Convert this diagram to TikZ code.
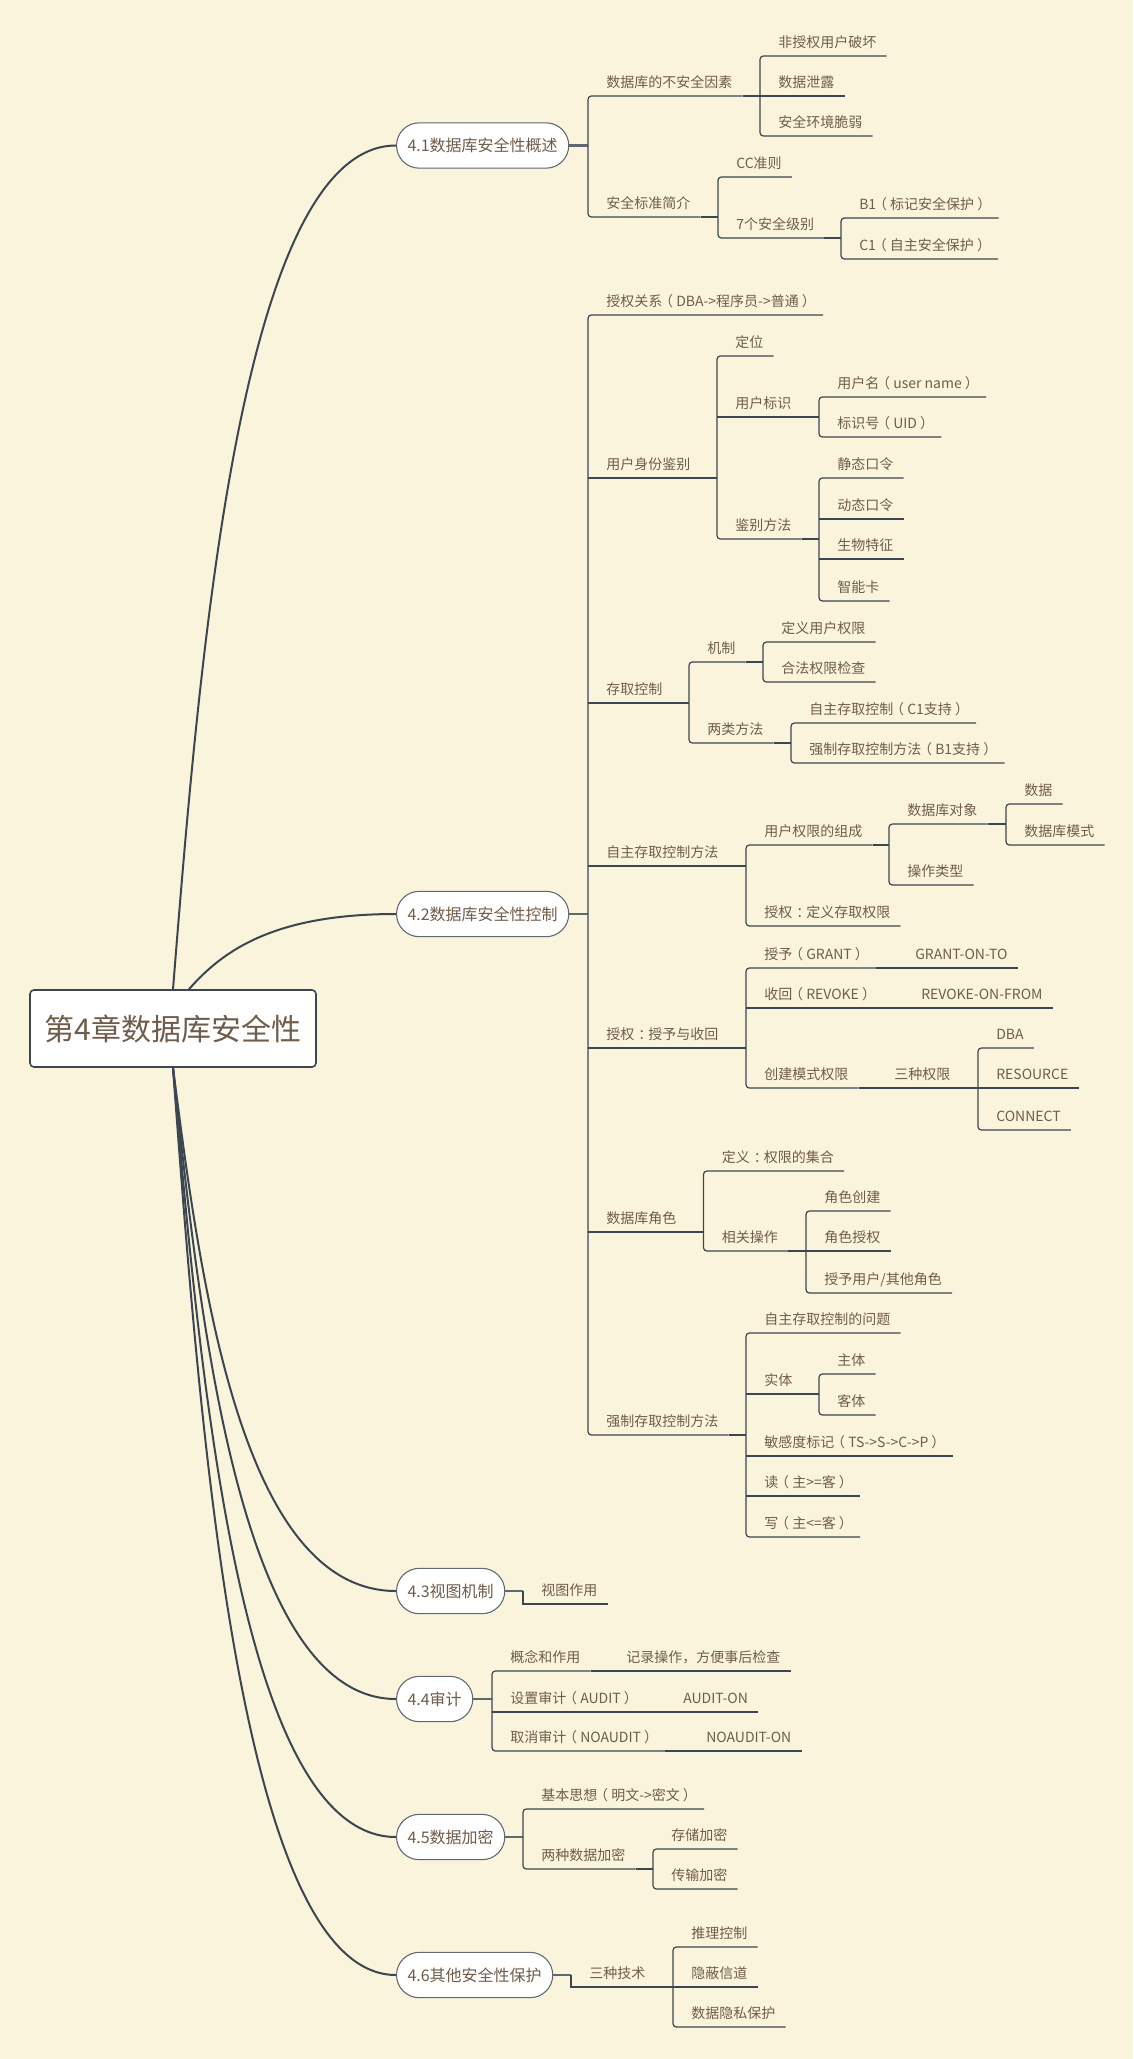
\documentclass[tikz,border=0pt]{standalone}
\usepackage{fontspec}
\setmainfont{Noto Sans CJK SC}
\usepackage{tikz}
\definecolor{paper}{RGB}{251,244,221}
\definecolor{ink}{RGB}{112,92,74}
\definecolor{wire}{RGB}{60,70,80}
\definecolor{rim}{RGB}{96,104,112}
% full-width punctuation set centred in its box
\newcommand{\fwopen}{\kern-0.22em（\kern0.22em}
\newcommand{\fwclose}{\kern0.22em）\kern-0.22em}
\newcommand{\fwcolon}{\kern0.3em：\kern-0.3em}

\begin{document}
\begin{tikzpicture}[
  x=0.75pt, y=-0.75pt,
  every node/.style={text=ink},
  ln/.style={draw=wire, line width=0.9pt},
  fork/.style={ln, rounded corners=2.5pt},
  stub/.style={draw=rim, line width=1.6pt},
  limb/.style={draw=wire, line width=1.5pt},
  hub/.style={draw=wire, fill=white, line width=1.2pt, rounded corners=3pt, minimum width=214.5pt, minimum height=57.75pt, font=\fontsize{22.5}{26}\selectfont},
  sec/.style={draw=rim, fill=white, line width=0.8pt, rounded corners=17pt, minimum height=34pt, inner xsep=8.25pt, anchor=west, font=\fontsize{12}{14}\selectfont},
  tp/.style={anchor=south west, inner xsep=0pt, inner ysep=0pt, text height=8.5pt, text depth=6pt, font=\fontsize{10.5}{12}\selectfont, execute at begin node={\hspace*{13.5pt}}, execute at end node={\hspace*{7.5pt}}},
]
  \useasboundingbox[fill=paper] (0,0) rectangle (1133,2059);

  % centre and sections
  \node[hub] (root) at (173,1028.5) {第4章数据库安全性};
  \node[sec] (s1) at (396,145.5) {4.1数据库安全性概述};
  \node[sec] (s2) at (396,914) {4.2数据库安全性控制};
  \node[sec] (s3) at (396,1591) {4.3视图机制};
  \node[sec] (s4) at (396,1699) {4.4审计};
  \node[sec] (s5) at (396,1837) {4.5数据加密};
  \node[sec] (s6) at (396,1975) {4.6其他安全性保护};
  \draw[limb] (root.north) .. controls +(27,-338) and +(-155,0) .. (s1.west);
  \draw[limb] ([xshift=12pt]root.north) .. controls +(35,-40) and +(-120,0) .. (s2.west);
  \draw[limb] (root.south) .. controls +(27,210) and +(-156,0) .. (s3.west);
  \draw[limb] (root.south) .. controls +(27,253) and +(-156,0) .. (s4.west);
  \draw[limb] (root.south) .. controls +(27,308) and +(-156,0) .. (s5.west);
  \draw[limb] (root.south) .. controls +(27,363) and +(-156,0) .. (s6.west);

  % 4.1
  \node[tp] (a1) at (588,96) {数据库的不安全因素};
  \node[tp] (a2) at (588,217) {安全标准简介};
  \draw[stub] (s1.east) -- (a1.south west |- s1.east);
  \draw[fork] (a1.south east) -- (a1.south west) -- (a2.south west) -- (a2.south east);
  \node[tp] (a11) at (760,56) {非授权用户破坏};
  \node[tp] (a12) at (760,96) {数据泄露};
  \node[tp] (a13) at (760,136) {安全环境脆弱};
  \draw[ln] (a1.south east) -- (a11.south west |- a1.south);
  \draw[fork] (a11.south east) -- (a11.south west) -- (a13.south west) -- (a13.south east);
  \draw[ln] (a12.south west) -- (a12.south east);
  \node[tp] (a21) at (718,177) {CC准则};
  \node[tp] (a22) at (718,238) {7个安全级别};
  \draw[ln] (a2.south east) -- (a21.south west |- a2.south);
  \draw[fork] (a21.south east) -- (a21.south west) -- (a22.south west) -- (a22.south east);
  \node[tp] (a221) at (841,218) {B1\fwopen 标记安全保护\fwclose};
  \node[tp] (a222) at (841,259) {C1\fwopen 自主安全保护\fwclose};
  \draw[ln] (a22.south east) -- (a221.south west |- a22.south);
  \draw[fork] (a221.south east) -- (a221.south west) -- (a222.south west) -- (a222.south east);

  % 4.2
  \node[tp] (b1) at (588,315) {授权关系\fwopen DBA->程序员->普通\fwclose};
  \node[tp] (b2) at (588,478) {用户身份鉴别};
  \node[tp] (b3) at (588,703) {存取控制};
  \node[tp] (b4) at (588,866) {自主存取控制方法};
  \node[tp] (b5) at (588,1048) {授权\fwcolon 授予与收回};
  \node[tp] (b6) at (588,1232) {数据库角色};
  \node[tp] (b7) at (588,1435) {强制存取控制方法};
  \draw[stub] (s2.east) -- (b1.south west |- s2.east);
  \draw[fork] (b1.south east) -- (b1.south west) -- (b7.south west) -- (b7.south east);
  \foreach \n in {b2,b3,b4,b5,b6}
    \draw[ln] (\n.south west) -- (\n.south east);

  \node[tp] (b21) at (717,356) {定位};
  \node[tp] (b22) at (717,417) {用户标识};
  \node[tp] (b23) at (717,539) {鉴别方法};
  \draw[ln] (b2.south east) -- (b21.south west |- b2.south);
  \draw[fork] (b21.south east) -- (b21.south west) -- (b23.south west) -- (b23.south east);
  \draw[ln] (b22.south west) -- (b22.south east);
  \node[tp] (b221) at (819,397) {用户名\fwopen user name\fwclose};
  \node[tp] (b222) at (819,437) {标识号\fwopen UID\fwclose};
  \draw[ln] (b22.south east) -- (b221.south west |- b22.south);
  \draw[fork] (b221.south east) -- (b221.south west) -- (b222.south west) -- (b222.south east);
  \node[tp] (b231) at (819,478) {静态口令};
  \node[tp] (b232) at (819,519) {动态口令};
  \node[tp] (b233) at (819,559) {生物特征};
  \node[tp] (b234) at (819,601) {智能卡};
  \draw[ln] (b23.south east) -- (b231.south west |- b23.south);
  \draw[fork] (b231.south east) -- (b231.south west) -- (b234.south west) -- (b234.south east);
  \draw[ln] (b232.south west) -- (b232.south east);
  \draw[ln] (b233.south west) -- (b233.south east);

  \node[tp] (b31) at (689,662) {机制};
  \node[tp] (b32) at (689,743) {两类方法};
  \draw[ln] (b3.south east) -- (b31.south west |- b3.south);
  \draw[fork] (b31.south east) -- (b31.south west) -- (b32.south west) -- (b32.south east);
  \node[tp] (b311) at (763,642) {定义用户权限};
  \node[tp] (b312) at (763,682) {合法权限检查};
  \draw[ln] (b31.south east) -- (b311.south west |- b31.south);
  \draw[fork] (b311.south east) -- (b311.south west) -- (b312.south west) -- (b312.south east);
  \node[tp] (b321) at (791,723) {自主存取控制\fwopen C1支持\fwclose};
  \node[tp] (b322) at (791,763) {强制存取控制方法\fwopen B1支持\fwclose};
  \draw[ln] (b32.south east) -- (b321.south west |- b32.south);
  \draw[fork] (b321.south east) -- (b321.south west) -- (b322.south west) -- (b322.south east);

  \node[tp] (b41) at (746,845) {用户权限的组成};
  \node[tp] (b42) at (746,926) {授权\fwcolon 定义存取权限};
  \draw[ln] (b4.south east) -- (b41.south west |- b4.south);
  \draw[fork] (b41.south east) -- (b41.south west) -- (b42.south west) -- (b42.south east);
  \node[tp] (b411) at (889,824) {数据库对象};
  \node[tp] (b412) at (889,885) {操作类型};
  \draw[ln] (b41.south east) -- (b411.south west |- b41.south);
  \draw[fork] (b411.south east) -- (b411.south west) -- (b412.south west) -- (b412.south east);
  \node[tp] (b4111) at (1006,804) {数据};
  \node[tp] (b4112) at (1006,845) {数据库模式};
  \draw[ln] (b411.south east) -- (b4111.south west |- b411.south);
  \draw[fork] (b4111.south east) -- (b4111.south west) -- (b4112.south west) -- (b4112.south east);

  \node[tp] (b51) at (746,968) {授予\fwopen GRANT\fwclose};
  \node[tp] (b52) at (746,1008) {收回\fwopen REVOKE\fwclose};
  \node[tp] (b53) at (746,1088) {创建模式权限};
  \draw[ln] (b5.south east) -- (b51.south west |- b5.south);
  \draw[fork] (b51.south east) -- (b51.south west) -- (b53.south west) -- (b53.south east);
  \draw[ln] (b52.south west) -- (b52.south east);
  \node[tp] (g51) at (897,968) {GRANT-ON-TO};
  \node[tp] (g52) at (903,1008) {REVOKE-ON-FROM};
  \node[tp] (g53) at (876,1088) {三种权限};
  \draw[ln] (b51.south east) -- (g51.south east);
  \draw[ln] (b52.south east) -- (g52.south east);
  \draw[ln] (b53.south east) -- (g53.south east);
  \node[tp] (h1) at (978,1048) {DBA};
  \node[tp] (h2) at (978,1088) {RESOURCE};
  \node[tp] (h3) at (978,1130) {CONNECT};
  \draw[ln] (g53.south east) -- (h1.south west |- g53.south);
  \draw[fork] (h1.south east) -- (h1.south west) -- (h3.south west) -- (h3.south east);
  \draw[ln] (h2.south west) -- (h2.south east);

  \node[tp] (b61) at (703.5,1171) {定义\fwcolon 权限的集合};
  \node[tp] (b62) at (703.5,1251) {相关操作};
  \draw[ln] (b6.south east) -- (b61.south west |- b6.south);
  \draw[fork] (b61.south east) -- (b61.south west) -- (b62.south west) -- (b62.south east);
  \node[tp] (b621) at (806,1211) {角色创建};
  \node[tp] (b622) at (806,1251) {角色授权};
  \node[tp] (b623) at (806,1293) {授予用户/其他角色};
  \draw[ln] (b62.south east) -- (b621.south west |- b62.south);
  \draw[fork] (b621.south east) -- (b621.south west) -- (b623.south west) -- (b623.south east);
  \draw[ln] (b622.south west) -- (b622.south east);

  \node[tp] (b71) at (746,1333) {自主存取控制的问题};
  \node[tp] (b72) at (746,1394) {实体};
  \node[tp] (b73) at (746,1456) {敏感度标记\fwopen TS->S->C->P\fwclose};
  \node[tp] (b74) at (746,1496) {读\fwopen 主>=客\fwclose};
  \node[tp] (b75) at (746,1537) {写\fwopen 主<=客\fwclose};
  \draw[ln] (b7.south east) -- (b71.south west |- b7.south);
  \draw[fork] (b71.south east) -- (b71.south west) -- (b75.south west) -- (b75.south east);
  \foreach \n in {b72,b73,b74}
    \draw[ln] (\n.south west) -- (\n.south east);
  \node[tp] (b721) at (819,1374) {主体};
  \node[tp] (b722) at (819,1415) {客体};
  \draw[ln] (b72.south east) -- (b721.south west |- b72.south);
  \draw[fork] (b721.south east) -- (b721.south west) -- (b722.south west) -- (b722.south east);

  % 4.3
  \node[tp] (c1) at (523,1604) {视图作用};
  \draw[stub] (s3.east) -- (c1.south west |- s3.east);
  \draw[ln] (c1.south west |- s3.east) -- (c1.south west) -- (c1.south east);

  % 4.4
  \node[tp] (d1) at (492,1671) {概念和作用};
  \node[tp] (d2) at (492,1712) {设置审计\fwopen AUDIT\fwclose};
  \node[tp] (d3) at (492,1751) {取消审计\fwopen NOAUDIT\fwclose};
  \draw[stub] (s4.east) -- (d1.south west |- s4.east);
  \draw[fork] (d1.south east) -- (d1.south west) -- (d3.south west) -- (d3.south east);
  \draw[ln] (d2.south west) -- (d2.south east);
  \node[tp] (k1) at (608,1671) {记录操作，方便事后检查};
  \node[tp] (k2) at (665,1712) {AUDIT-ON};
  \node[tp] (k3) at (688,1751) {NOAUDIT-ON};
  \draw[ln] (d1.south east) -- (k1.south east);
  \draw[ln] (d2.south east) -- (k2.south east);
  \draw[ln] (d3.south east) -- (k3.south east);

  % 4.5
  \node[tp] (e1) at (523,1809) {基本思想\fwopen 明文->密文\fwclose};
  \node[tp] (e2) at (523,1869) {两种数据加密};
  \draw[stub] (s5.east) -- (e1.south west |- s5.east);
  \draw[fork] (e1.south east) -- (e1.south west) -- (e2.south west) -- (e2.south east);
  \node[tp] (e21) at (653,1849) {存储加密};
  \node[tp] (e22) at (653,1889) {传输加密};
  \draw[ln] (e2.south east) -- (e21.south west |- e2.south);
  \draw[fork] (e21.south east) -- (e21.south west) -- (e22.south west) -- (e22.south east);

  % 4.6
  \node[tp] (f1) at (571,1987) {三种技术};
  \draw[stub] (s6.east) -- (f1.south west |- s6.east);
  \draw[ln] (f1.south west |- s6.east) -- (f1.south west) -- (f1.south east);
  \node[tp] (f11) at (673,1947) {推理控制};
  \node[tp] (f12) at (673,1987) {隐蔽信道};
  \node[tp] (f13) at (673,2027) {数据隐私保护};
  \draw[ln] (f1.south east) -- (f11.south west |- f1.south);
  \draw[fork] (f11.south east) -- (f11.south west) -- (f13.south west) -- (f13.south east);
  \draw[ln] (f12.south west) -- (f12.south east);
\end{tikzpicture}
\end{document}
